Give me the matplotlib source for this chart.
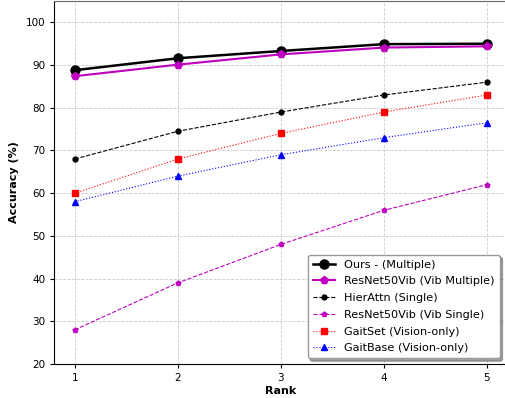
import matplotlib

matplotlib.use("Agg")
import matplotlib.pyplot as plt

ranks = [1, 2, 3, 4, 5]
ours_multiple = [88.8, 91.6, 93.3, 94.9, 95.0]
resnet_vib_multiple = [87.4, 90.1, 92.5, 94.1, 94.4]
hierattn_single = [68.0, 74.5, 79.0, 83.0, 86.0]
resnet_vib_single = [28.0, 39.0, 48.0, 56.0, 62.0]
gaitset_vision = [60.0, 68.0, 74.0, 79.0, 83.0]
gaitbase_vision = [58.0, 64.0, 69.0, 73.0, 76.5]

fig = plt.figure(figsize=(5.06, 3.98), dpi=100)
ax = fig.add_axes([0.107, 0.0854, 0.896, 0.912])

ax.plot(ranks, ours_multiple, color="black", linestyle="-", linewidth=1.8,
        marker="o", markersize=6.5, label="Ours - (Multiple)")
ax.plot(ranks, resnet_vib_multiple, color="#c000c0", linestyle="-", linewidth=1.5,
        marker="p", markersize=5.5, label="ResNet50Vib (Vib Multiple)")
ax.plot(ranks, hierattn_single, color="black", linestyle="--", linewidth=0.8,
        marker="o", markersize=3.5, label="HierAttn (Single)")
ax.plot(ranks, resnet_vib_single, color="#c000c0", linestyle="--", linewidth=0.8,
        marker="p", markersize=3.5, label="ResNet50Vib (Vib Single)")
ax.plot(ranks, gaitset_vision, color="red", linestyle=":", linewidth=0.8,
        marker="s", markersize=4, label="GaitSet (Vision-only)")
ax.plot(ranks, gaitbase_vision, color="blue", linestyle=":", linewidth=0.8,
        marker="^", markersize=4, label="GaitBase (Vision-only)")

ax.set_xlim(0.8, 5.2)
ax.set_ylim(20, 105)
ax.set_xticks(ranks)
ax.set_yticks(range(20, 101, 10))
ax.tick_params(labelsize=7.5, width=0.8, length=3)
ax.set_xlabel("Rank", fontsize=8, fontweight="bold", labelpad=2)
ax.set_ylabel("Accuracy (%)", fontsize=8, fontweight="bold", labelpad=5)
ax.grid(True, linestyle="--", color="#cccccc", linewidth=0.6)
ax.spines["top"].set_color("#666666")

ax.legend(loc="lower right", fontsize=8.1, shadow=True, fancybox=True,
          framealpha=1.0, edgecolor="#999999", borderpad=0.45, labelspacing=0.6,
          handlelength=2.0, bbox_to_anchor=(0.995, 0.0))

fig.savefig("out.png", dpi=100)
